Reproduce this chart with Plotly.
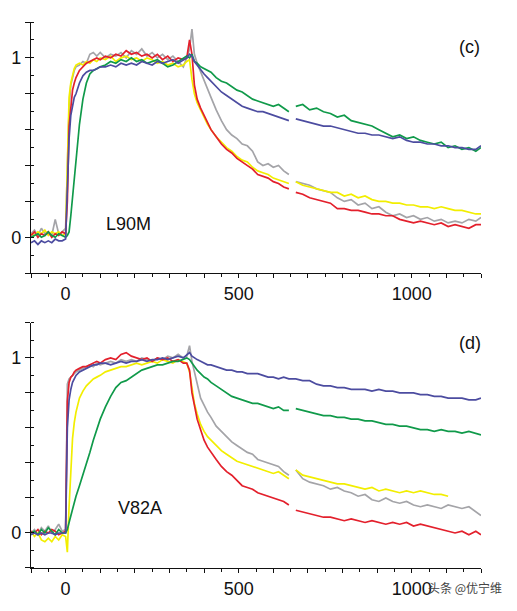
import plotly.graph_objects as go

# shared time grid (s)
time_s = [-100, -90, -80, -70, -60, -50, -40, -30, -20, -10, 0,
          5, 10, 15, 20, 25, 30, 40, 50, 60, 70, 80, 90, 100,
          115, 130, 145, 160, 175, 190, 205, 220, 235, 250, 265, 280, 295, 310, 325, 340,
          350, 358, 365, 372, 380, 390, 400, 410, 420, 435, 450, 465, 480, 495, 510, 525,
          540, 555, 570, 585, 600, 615, 630, 645,
          655,
          665, 685, 705, 725, 745, 765, 785, 805, 825, 845, 865, 885, 905, 925, 945, 965,
          985, 1005, 1025, 1045, 1065, 1085, 1105, 1125, 1145, 1165, 1185, 1200]

N = None

# ---- panel (c) L90M ----
c_gray = [0.02, 0.04, 0.01, 0.05, 0.02, 0.03, 0.01, 0.10, 0.02, 0.03, 0.05,
          0.35, 0.72, 0.85, 0.90, 0.93, 0.95, 0.96, 0.98, 0.97, 1.02, 1.03, 1.01, 1.03,
          1.00, 1.02, 1.01, 1.03, 1.00, 1.04, 1.02, 1.05, 1.01, 1.03, 1.00, 1.02, 0.99, 1.01, 0.98, 0.95,
          1.00, 1.05, 1.16, 1.02, 0.97, 0.92, 0.88, 0.83, 0.78, 0.71, 0.65, 0.60, 0.57, 0.55, 0.52, 0.51,
          0.48, 0.42, 0.40, 0.41, 0.39, 0.40, 0.37, 0.35,
          N,
          0.31, 0.30, 0.29, 0.27, 0.26, 0.25, 0.22, 0.20, 0.21, 0.18, 0.19, 0.16, 0.17, 0.14, 0.12, 0.13,
          0.11, 0.12, 0.10, 0.11, 0.09, 0.10, 0.08, 0.09, 0.08, 0.10, 0.09, 0.11]
c_red = [0.01, 0.03, 0.00, 0.02, 0.01, 0.03, 0.00, 0.02, 0.01, 0.03, 0.02,
         0.20, 0.62, 0.72, 0.82, 0.86, 0.89, 0.93, 0.95, 0.97, 0.98, 0.99, 1.00, 0.99,
         1.01, 1.00, 1.02, 1.01, 1.04, 1.02, 1.03, 1.01, 1.02, 1.00, 1.02, 0.99, 1.01, 0.98, 1.00, 0.99,
         1.00, 1.10, 1.02, 0.85, 0.77, 0.72, 0.68, 0.64, 0.60, 0.56, 0.52, 0.49, 0.47, 0.44, 0.42, 0.40,
         0.38, 0.35, 0.34, 0.33, 0.31, 0.30, 0.28, 0.27,
         N,
         0.25, 0.24, 0.22, 0.21, 0.20, 0.19, 0.16, 0.16, 0.15, 0.15, 0.14, 0.13, 0.13, 0.12, 0.12, 0.10,
         0.09, 0.08, 0.09, 0.08, 0.07, 0.08, 0.06, 0.07, 0.06, 0.05, 0.07, 0.07]
c_yellow = [0.02, 0.01, 0.03, 0.02, 0.04, 0.01, 0.03, 0.02, 0.03, 0.01, 0.02,
            0.45, 0.78, 0.86, 0.91, 0.94, 0.96, 0.97, 0.96, 0.98, 0.97, 0.99, 0.98, 1.00,
            0.99, 1.01, 0.98, 1.00, 1.01, 0.99, 1.00, 0.98, 1.00, 0.99, 0.97, 0.98, 0.96, 0.97, 0.95, 0.96,
            0.98, 0.99, 0.88, 0.80, 0.75, 0.71, 0.67, 0.63, 0.60, 0.56, 0.53, 0.50, 0.48, 0.45, 0.43, 0.42,
            0.39, 0.37, 0.36, 0.35, 0.33, 0.32, 0.31, 0.30,
            N,
            0.31, 0.29, 0.28, 0.27, 0.26, 0.25, 0.25, 0.23, 0.24, 0.22, 0.23, 0.21, 0.20, 0.20, 0.19, 0.19,
            0.18, 0.18, 0.17, 0.17, 0.16, 0.17, 0.16, 0.15, 0.15, 0.14, 0.13, 0.13]
c_green = [0.00, 0.01, 0.02, 0.00, 0.01, 0.03, 0.01, 0.00, 0.02, 0.01, 0.00,
           0.01, 0.03, 0.12, 0.22, 0.36, 0.46, 0.63, 0.77, 0.86, 0.91, 0.93, 0.94, 0.95,
           0.96, 0.98, 0.97, 0.99, 0.98, 1.00, 0.98, 0.99, 0.97, 0.98, 0.99, 0.97, 0.95, 0.96, 0.98, 1.00,
           1.01, 1.00, 1.02, 0.98, 0.97, 0.95, 0.94, 0.93, 0.92, 0.89, 0.87, 0.86, 0.84, 0.82, 0.81, 0.79,
           0.77, 0.76, 0.75, 0.74, 0.73, 0.74, 0.72, 0.70,
           N,
           0.73, 0.74, 0.71, 0.72, 0.70, 0.69, 0.67, 0.68, 0.65, 0.64, 0.63, 0.62, 0.60, 0.58, 0.56, 0.57,
           0.55, 0.56, 0.54, 0.53, 0.52, 0.53, 0.50, 0.51, 0.49, 0.50, 0.48, 0.50]
c_blue = [-0.03, -0.02, -0.04, -0.02, -0.03, -0.02, -0.03, -0.01, -0.02, -0.02, -0.01,
          0.25, 0.55, 0.68, 0.74, 0.78, 0.80, 0.86, 0.90, 0.92, 0.93, 0.93, 0.94, 0.95,
          0.95, 0.96, 0.95, 0.97, 0.96, 0.97, 0.96, 0.98, 0.97, 0.96, 0.98, 0.97, 0.98, 0.99, 0.97, 0.99,
          1.00, 1.02, 1.01, 0.98, 0.96, 0.93, 0.91, 0.89, 0.87, 0.84, 0.81, 0.79, 0.77, 0.75, 0.73, 0.72,
          0.71, 0.70, 0.70, 0.69, 0.68, 0.67, 0.66, 0.65,
          N,
          0.66, 0.65, 0.64, 0.63, 0.62, 0.62, 0.61, 0.60, 0.59, 0.58, 0.58, 0.57, 0.57, 0.56, 0.55, 0.56,
          0.54, 0.53, 0.53, 0.52, 0.52, 0.51, 0.51, 0.50, 0.50, 0.49, 0.49, 0.51]

# ---- panel (d) V82A ----
d_gray = [0.00, 0.02, -0.01, 0.03, 0.01, 0.04, 0.00, 0.02, 0.05, 0.01, 0.02,
          0.85, 0.88, 0.89, 0.90, 0.91, 0.92, 0.93, 0.94, 0.95, 0.96, 0.95, 0.97, 0.96,
          0.97, 0.98, 0.97, 0.99, 0.98, 0.99, 0.98, 1.00, 0.99, 0.98, 1.00, 0.99, 1.01, 1.00, 1.02, 1.00,
          1.01, 1.07, 0.98, 0.92, 0.85, 0.77, 0.73, 0.69, 0.66, 0.61, 0.58, 0.55, 0.52, 0.50, 0.48, 0.46,
          0.45, 0.42, 0.41, 0.40, 0.39, 0.38, 0.35, 0.33,
          N,
          0.36, 0.31, 0.29, 0.28, 0.27, 0.25, 0.26, 0.24, 0.23, 0.21, 0.22, 0.19, 0.18, 0.20, 0.18, 0.17,
          0.18, 0.16, 0.15, 0.16, 0.15, 0.14, 0.16, 0.15, 0.14, 0.15, 0.12, 0.10]
d_red = [0.01, 0.00, 0.02, -0.01, 0.01, 0.00, 0.02, 0.01, -0.01, 0.00, 0.01,
         0.75, 0.86, 0.89, 0.90, 0.92, 0.93, 0.94, 0.95, 0.95, 0.96, 0.97, 0.98, 0.97,
         0.99, 1.00, 0.99, 1.02, 1.03, 1.01, 1.00, 0.99, 1.00, 0.98, 1.00, 0.99, 1.00, 0.98, 0.99, 0.97,
         0.97, 0.93, 0.80, 0.72, 0.65, 0.59, 0.53, 0.49, 0.46, 0.42, 0.38, 0.35, 0.33, 0.30, 0.27, 0.26,
         0.25, 0.23, 0.22, 0.21, 0.20, 0.19, 0.18, 0.16,
         N,
         0.13, 0.12, 0.11, 0.10, 0.09, 0.09, 0.08, 0.07, 0.08, 0.07, 0.06, 0.07, 0.06, 0.05, 0.06, 0.05,
         0.06, 0.04, 0.05, 0.04, 0.03, 0.02, 0.01, 0.00, 0.01, -0.01, 0.01, -0.01]
d_yellow = [0.01, -0.02, 0.00, -0.04, -0.05, -0.03, -0.05, -0.02, -0.04, -0.01, -0.02,
            -0.11, 0.15, 0.35, 0.54, 0.63, 0.69, 0.77, 0.81, 0.84, 0.86, 0.88, 0.89, 0.90,
            0.92, 0.93, 0.94, 0.95, 0.95, 0.96, 0.97, 0.96, 0.97, 0.98, 0.97, 0.99, 0.98, 0.97, 0.99, 0.98,
            0.97, 0.92, 0.82, 0.74, 0.68, 0.62, 0.58, 0.55, 0.53, 0.50, 0.47, 0.45, 0.43, 0.41, 0.40, 0.39,
            0.38, 0.37, 0.36, 0.35, 0.34, 0.35, 0.33, 0.31,
            N,
            0.36, 0.33, 0.32, 0.31, 0.30, 0.29, 0.28, 0.28, 0.27, 0.26, 0.25, 0.26, 0.24, 0.25, 0.24, 0.23,
            0.24, 0.23, 0.24, 0.23, 0.22, 0.22, 0.21, N, N, N, N, N]
d_green = [0.00, 0.01, -0.01, 0.02, 0.00, 0.03, 0.01, -0.01, 0.02, 0.00, 0.00,
           0.02, 0.06, 0.10, 0.14, 0.18, 0.21, 0.27, 0.33, 0.40, 0.46, 0.53, 0.59, 0.65,
           0.72, 0.78, 0.83, 0.86, 0.87, 0.89, 0.91, 0.93, 0.94, 0.95, 0.96, 0.96, 0.97, 0.98, 0.98, 0.99,
           1.00, 0.99, 0.97, 0.95, 0.93, 0.91, 0.89, 0.88, 0.86, 0.84, 0.82, 0.80, 0.78, 0.77, 0.76, 0.75,
           0.74, 0.74, 0.73, 0.72, 0.71, 0.72, 0.70, 0.70,
           N,
           0.71, 0.70, 0.69, 0.68, 0.67, 0.67, 0.66, 0.66, 0.65, 0.65, 0.64, 0.64, 0.63, 0.62, 0.62, 0.61,
           0.61, 0.60, 0.59, 0.59, 0.58, 0.59, 0.58, 0.58, 0.57, 0.58, 0.57, 0.56]
d_blue = [-0.01, 0.00, -0.01, 0.00, -0.01, 0.00, 0.00, -0.01, 0.00, 0.00, 0.00,
          0.60, 0.76, 0.82, 0.86, 0.88, 0.90, 0.92, 0.93, 0.94, 0.95, 0.96, 0.96, 0.97,
          0.97, 0.96, 0.97, 0.98, 0.97, 0.98, 0.98, 0.99, 0.98, 0.99, 0.99, 1.00, 0.99, 1.00, 1.01, 1.00,
          1.02, 1.03, 1.01, 1.00, 0.99, 0.98, 0.97, 0.96, 0.96, 0.95, 0.94, 0.93, 0.93, 0.92, 0.92, 0.91,
          0.91, 0.91, 0.90, 0.89, 0.89, 0.88, 0.89, 0.88,
          0.88,
          0.88, 0.87, 0.87, 0.85, 0.84, 0.84, 0.83, 0.83, 0.82, 0.82, 0.82, 0.81, 0.82, 0.81, 0.81, 0.80,
          0.80, 0.80, 0.79, 0.79, 0.78, 0.78, 0.77, 0.77, 0.77, 0.76, 0.76, 0.77]

x_tickvals = [-100, 0, 100, 200, 300, 400, 500, 600, 700, 800, 900, 1000, 1100, 1200]
x_ticktext = ["", "0", "", "", "", "", "500", "", "", "", "", "1000", "", ""]
y_tickvals = [-0.2, 0, 0.2, 0.4, 0.6, 0.8, 1.0, 1.2]
y_ticktext = ["", "0", "", "", "", "", "1", ""]

colors = {"gray": "#a4a4a8", "yellow": "#f2ee00", "red": "#e3202c",
          "green": "#109a4a", "blue": "#4c4ca0"}

panels = [
    ("x", "y", {"gray": c_gray, "yellow": c_yellow, "red": c_red, "green": c_green, "blue": c_blue}),
    ("x2", "y2", {"gray": d_gray, "yellow": d_yellow, "red": d_red, "green": d_green, "blue": d_blue}),
]

fig = go.Figure()
for xa, ya, series in panels:
    for name in ["gray", "yellow", "red", "green", "blue"]:
        fig.add_trace(go.Scatter(x=time_s, y=series[name], mode="lines", xaxis=xa, yaxis=ya,
                                 line=dict(color=colors[name], width=1.7),
                                 connectgaps=False, showlegend=False, hoverinfo="skip"))

font = dict(family="Liberation Sans, Arial, sans-serif", size=18, color="#111")

xax = dict(range=[-100, 1200], tickmode="array", tickvals=x_tickvals, ticktext=x_ticktext,
           ticks="outside", ticklen=4, tickwidth=1.2, tickcolor="#111",
           minor=dict(dtick=50, tick0=0, ticks="outside", ticklen=3, tickcolor="#111"),
           showline=True, linecolor="#111", linewidth=1.3, showgrid=False, zeroline=False,
           tickfont=font, automargin=False)
yax = dict(range=[-0.2, 1.2], tickmode="array", tickvals=y_tickvals, ticktext=y_ticktext,
           ticks="outside", ticklen=5, tickwidth=1.2, tickcolor="#111",
           minor=dict(dtick=0.1, tick0=0, ticks="inside", ticklen=3, tickcolor="#111"),
           showline=True, linecolor="#111", linewidth=1.3, showgrid=False, zeroline=False,
           tickfont=font, automargin=False)

# page has an 8px body margin, so the figure is sized/offset to compensate
fig.update_layout(
    width=509, height=603,
    margin=dict(l=23, r=36, t=14, b=43, autoexpand=False),
    paper_bgcolor="white", plot_bgcolor="white",
    xaxis=dict(xax, domain=[0, 1], anchor="y"),
    yaxis=dict(yax, domain=[0.540, 1.0], anchor="x"),
    xaxis2=dict(xax, domain=[0, 1], anchor="y2"),
    yaxis2=dict(yax, domain=[0.0, 0.449], anchor="x2"),
    annotations=[
        dict(x=183, y=0.075, xref="x", yref="y", text="L90M", showarrow=False, font=font),
        dict(x=1168, y=1.06, xref="x", yref="y", text="(c)", showarrow=False, font=font),
        dict(x=215, y=0.14, xref="x2", yref="y2", text="V82A", showarrow=False, font=font),
        dict(x=1168, y=1.085, xref="x2", yref="y2", text="(d)", showarrow=False, font=font),
        dict(x=1.05, y=-0.055, xref="paper", yref="paper", xanchor="right", text="头条 @优宁维",
             showarrow=False, font=dict(family="Noto Sans CJK SC", size=12, color="#444")),
    ],
)

fig.write_html("out.html")
